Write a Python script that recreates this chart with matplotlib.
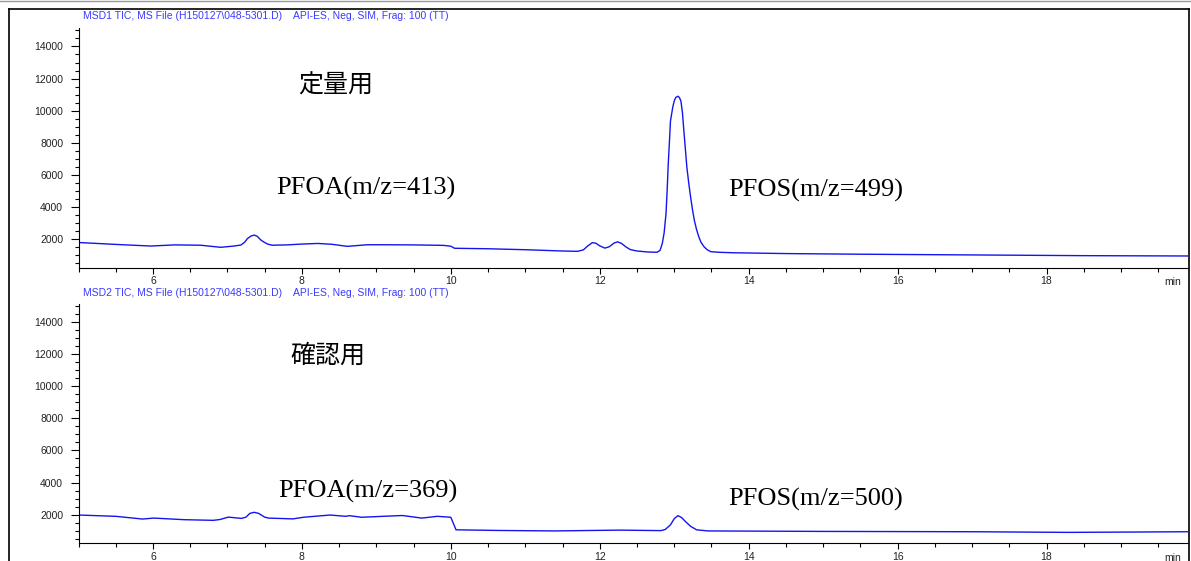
import matplotlib
matplotlib.use("Agg")
import matplotlib.pyplot as plt
from matplotlib.lines import Line2D

# chromatogram traces (time in min, abundance)
top_time = [5.0, 5.5, 5.97, 6.29, 6.64, 6.91, 7.09, 7.18, 7.23, 7.27, 7.32, 7.36, 7.4, 7.45, 7.5, 7.54, 7.6,
            7.8, 7.99, 8.21, 8.4, 8.61, 8.88, 9.1, 9.5, 9.9, 10.0, 10.05, 10.5, 11.0, 11.5, 11.7, 11.78,
            11.84, 11.9, 11.95, 12.0, 12.07, 12.13, 12.19, 12.24, 12.29, 12.35, 12.41, 12.5, 12.64, 12.77,
            12.81, 12.84, 12.865, 12.89, 12.905, 12.92, 12.935, 12.95, 12.98, 13.0, 13.02, 13.05, 13.07,
            13.09, 13.11, 13.13, 13.15, 13.17, 13.195, 13.22, 13.245, 13.27, 13.3, 13.33, 13.36, 13.4,
            13.44, 13.49, 13.6, 13.8, 14.5, 15.5, 16.5, 17.5, 18.5, 19.9]
top_val = [1790, 1670, 1570, 1640, 1620, 1490, 1570, 1630, 1800, 2040, 2200, 2250, 2180, 1940, 1790, 1690, 1620,
           1640, 1690, 1730, 1680, 1550, 1650, 1650, 1640, 1610, 1560, 1430, 1400, 1340, 1260, 1240, 1330,
           1580, 1780, 1740, 1580, 1440, 1530, 1750, 1830, 1740, 1520, 1350, 1260, 1200, 1180,
           1300, 1730, 2400, 3590, 5000, 6680, 8000, 9360, 10200, 10600, 10820, 10900, 10820,
           10600, 9900, 8740, 7600, 6480, 5500, 4630, 3850, 3180, 2600, 2150, 1800, 1530,
           1350, 1220, 1180, 1150, 1100, 1060, 1030, 1000, 970, 950]

bot_time = [5.0, 5.5, 5.86, 6.01, 6.42, 6.81, 6.9, 7.01, 7.19, 7.25, 7.3, 7.36, 7.42, 7.5, 7.55, 7.88,
            8.02, 8.17, 8.38, 8.59, 8.64, 8.8, 9.09, 9.35, 9.61, 9.82, 10.0, 10.07, 10.63, 11.4, 11.9,
            12.27, 12.82, 12.88, 12.95, 13.0, 13.05, 13.1, 13.15, 13.22, 13.3, 13.45, 15.0, 17.0, 18.3, 19.9]
bot_val = [1980, 1900, 1730, 1790, 1690, 1650, 1700, 1850, 1770, 1850, 2080, 2150, 2080, 1850, 1790, 1740,
           1840, 1900, 1980, 1900, 1940, 1840, 1900, 1950, 1790, 1900, 1840, 1060, 1020, 990, 1020,
           1040, 1010, 1080, 1370, 1750, 1940, 1820, 1580, 1280, 1060, 990, 960, 940, 900, 940]

headers = [r"MSD1 TIC, MS File (H150127\048-5301.D)    API-ES, Neg, SIM, Frag: 100 (TT)",
           r"MSD2 TIC, MS File (H150127\048-5301.D)    API-ES, Neg, SIM, Frag: 100 (TT)"]
titles = ["定量用", "確認用"]
pfoa_labels = ["PFOA(m/z=413)", "PFOA(m/z=369)"]
pfos_labels = ["PFOS(m/z=499)", "PFOS(m/z=500)"]

W, H = 1191, 561
fig = plt.figure(figsize=(W / 100, H / 100), dpi=100)

def px(x0, y0, x1, y1):
    # pixel box (top-left origin) -> figure fraction rect
    return [x0 / W, 1 - y1 / H, (x1 - x0) / W, (y1 - y0) / H]

# outer frame
fig.add_artist(Line2D([0, 1], [1 - 0.5 / H, 1 - 0.5 / H], color="#999999", lw=1.0))
fig.add_artist(Line2D([8.5 / W, 1188.5 / W], [1 - 9 / H, 1 - 9 / H], color="black", lw=1.2))
fig.add_artist(Line2D([8.5 / W, 8.5 / W], [0, 1 - 9 / H], color="black", lw=1.2))
fig.add_artist(Line2D([1188.5 / W, 1188.5 / W], [0, 1 - 9 / H], color="black", lw=1.2))

ax_top = fig.add_axes(px(78.5, 28, 1188, 267.7))
ax_bot = fig.add_axes(px(78.5, 303.5, 1188, 543.3))

blue_txt = "#3a3aff"
traces = [(top_time, top_val), (bot_time, bot_val)]

for i, ax in enumerate([ax_top, ax_bot]):
    t, v = traces[i]
    ax.plot(t, v, color="#1414f0", lw=1.0)
    ax.set_xlim(5.0, 19.9)
    ax.set_ylim(220, 15150)
    ax.patch.set_alpha(0)
    for s in ["top", "right"]:
        ax.spines[s].set_visible(False)
    for s in ["left", "bottom"]:
        ax.spines[s].set_linewidth(0.8)
    ax.set_xticks([6, 8, 10, 12, 14, 16, 18])
    ax.set_xticks([x / 2 for x in range(10, 40)], minor=True)
    ax.set_yticks(range(2000, 14001, 2000))
    ax.set_yticks(range(500, 15001, 500), minor=True)
    ax.tick_params(axis="both", which="major", labelsize=7.5, length=4, width=0.8,
                   colors="black", labelcolor="#222222", pad=2)
    ax.tick_params(axis="both", which="minor", length=3, width=0.8)
    ax.tick_params(axis="y", which="major", length=6, pad=5)
    for lab in ax.get_xticklabels() + ax.get_yticklabels():
        lab.set_family("Liberation Sans")
    ax.text(0.986, -0.06, "min", transform=ax.transAxes, fontsize=7.5,
            family="Liberation Sans", color="#222222", ha="center", va="center")

# headers
fig.text(83 / W, 1 - 16 / H, headers[0], fontsize=7.5, color=blue_txt,
         family="Liberation Sans", va="center")
fig.text(83 / W, 1 - 293 / H, headers[1], fontsize=7.5, color=blue_txt,
         family="Liberation Sans", va="center")

# annotations
jp = ["Noto Sans CJK JP", "DejaVu Sans"]
fig.text(298 / W, 1 - 86 / H, titles[0], fontsize=18, family=jp, va="center")
fig.text(290 / W, 1 - 356 / H, titles[1], fontsize=18, family=jp, va="center")

lab_font = ["Liberation Serif"]
fig.text(276 / W, 1 - 188 / H, pfoa_labels[0], fontsize=19, family=lab_font, va="center")
fig.text(728 / W, 1 - 190 / H, pfos_labels[0], fontsize=19, family=lab_font, va="center")
fig.text(278 / W, 1 - 491 / H, pfoa_labels[1], fontsize=19, family=lab_font, va="center")
fig.text(728 / W, 1 - 499 / H, pfos_labels[1], fontsize=19, family=lab_font, va="center")

fig.savefig("out.png", dpi=100)
